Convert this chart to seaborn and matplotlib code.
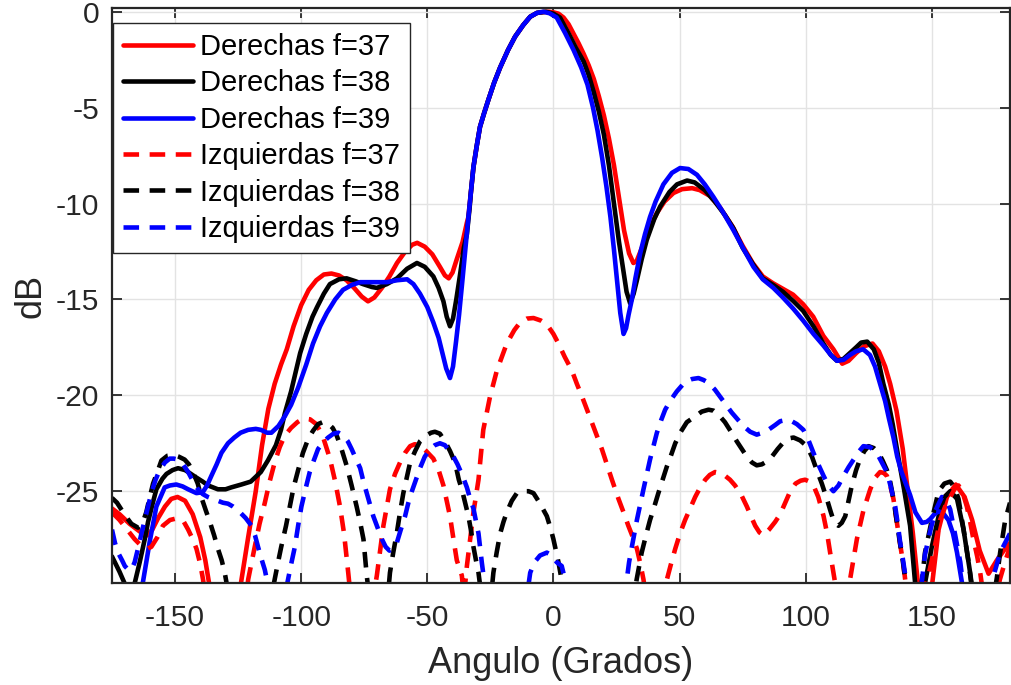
import matplotlib
matplotlib.use("Agg")
import matplotlib.pyplot as plt
import seaborn as sns
import pandas as pd

# ---------------- radiation pattern data (angle in degrees, level in dB) ----------------
der37_ang = [-175, -172, -168, -164, -161, -159, -156.7, -154, -151.5, -149, -146, -143, -140, -138, -136,
             -133, -128, -125.5, -124, -121, -118, -115.5, -113, -110.5, -108, -105.7, -103, -100, -97, -94,
             -91, -88, -85, -82, -79, -76, -73.5, -71, -68, -65, -62, -59, -56, -54, -51, -48, -45, -43,
             -41.5, -40, -38.3, -36, -34.3, -33.7, -32.7, -31.7, -30.4, -29.1, -27.5, -25.8, -23.5, -21.1,
             -18, -15.2, -12, -9.2, -6.5, -4, -2, 0, 2, 4, 6, 8, 10, 12, 14, 16, 18, 20, 22, 24, 26, 28,
             30, 31.7, 33, 35.7, 38, 41, 44, 47.6, 51, 55, 58, 62, 66, 71, 75, 79, 83, 87, 91, 95, 99, 103,
             107, 111, 114.5, 117, 120, 123, 126.5, 129, 131.5, 133.5, 136, 138.5, 140.5, 142.5, 144.5, 146,
             148, 150, 152.7, 156, 159.5, 163, 166, 169, 172.5, 175.8, 178.5, 181]
der37_db = [-25.9, -26.2, -26.7, -27.1, -27.3, -27.0, -26.4, -25.8, -25.4, -25.3, -25.5, -26.2, -27.4, -28.6, -30.2,
            -33, -34, -31.5, -29.9, -27.4, -25.0, -22.6, -20.7, -19.4, -18.4, -17.6, -16.4, -15.3, -14.5, -14.0,
            -13.7, -13.65, -13.75, -14.0, -14.4, -14.85, -15.1, -14.9, -14.4, -13.8, -13.1, -12.55, -12.15, -12.05,
            -12.25, -12.65, -13.3, -13.75, -13.9, -13.6, -12.9, -12.0, -11.0, -10.7, -9.4, -8.1, -7.0, -6.0, -5.3,
            -4.6, -3.7, -2.9, -2.0, -1.3, -0.7, -0.26, -0.06, -0.02, 0.0, -0.03, -0.1, -0.3, -0.65, -1.15, -1.65,
            -2.2, -2.8, -3.5, -4.4, -5.4, -6.6, -8.0, -9.7, -11.4, -12.6, -13.1, -13.0, -12.1, -11.3, -10.5, -9.9,
            -9.45, -9.25, -9.2, -9.3, -9.6, -10.2, -11.2, -12.2, -13.1, -13.8, -14.15, -14.45, -14.75, -15.25,
            -15.9, -16.9, -17.6, -18.35, -18.2, -17.8, -17.45, -17.3, -17.7, -18.5, -19.4, -20.8, -22.8, -25.0,
            -27.2, -29.8, -32, -33, -30, -27.0, -25.3, -24.65, -25.3, -26.5, -28.1, -29.3, -28.6, -28.1, -27.7]

der38_ang = [-175, -172, -170, -168, -166, -164, -162, -160.7, -159, -157.4, -155, -153.4, -151, -148.8, -146,
             -144.8, -142, -139, -136.9, -133, -130, -127.7, -123.7, -120, -116, -113.2, -110, -108, -106.4,
             -104, -102, -100.4, -98, -95.5, -93.7, -91, -88.6, -85, -82, -78.5, -75.5, -72, -70, -66, -62,
             -58, -54.1, -51, -47.6, -45.5, -43.6, -42.3, -41, -39.8, -38.5, -37, -35.5, -34.3, -33.2, -32.7,
             -31.7, -30.4, -29.1, -27.5, -25.8, -23.5, -21.1, -18, -15.2, -12, -9.2, -6.5, -3, 0, 2.6, 5.9, 9,
             12, 14, 16, 18, 20, 22, 24, 26, 27.6, 29, 30.4, 31.8, 33.1, 35, 37, 40, 42.3, 46, 49, 53, 56, 60,
             64, 68, 71.4, 75, 79.3, 83, 87.2, 91, 95.2, 99, 103.1, 107, 110, 112.4, 115, 117.5, 120, 122,
             124.4, 127, 129, 130.8, 133, 134.5, 136.7, 139, 141.4, 143.4, 145, 147.3, 150, 151.7, 153.3, 155,
             157.3, 160, 162.6, 165.2, 167, 170]
der38_db = [-28.4, -29.2, -29.8, -30.4, -29.8, -28.7, -27.5, -26.6, -25.7, -24.9, -24.35, -24.1, -23.9, -23.8,
            -23.9, -24.0, -24.25, -24.5, -24.7, -24.9, -24.9, -24.8, -24.65, -24.5, -24.0, -23.4, -22.6, -21.8,
            -20.9, -19.8, -18.7, -17.8, -16.8, -15.9, -15.4, -14.7, -14.2, -13.95, -13.9, -14.05, -14.2, -14.35,
            -14.4, -14.2, -13.9, -13.4, -13.1, -13.3, -13.8, -14.4, -15.1, -15.9, -16.4, -16.0, -15.0, -13.7,
            -12.3, -11.6, -10.2, -9.4, -8.1, -7.0, -6.0, -5.3, -4.6, -3.7, -2.9, -2.0, -1.3, -0.7, -0.26, -0.06,
            0.0, -0.1, -0.3, -1.1, -1.9, -2.6, -3.3, -4.2, -5.2, -6.4, -8.0, -10.0, -12.0, -13.4, -14.6, -15.2,
            -14.7, -14.0, -12.9, -11.9, -10.8, -10.16, -9.4, -9.0, -8.8, -8.9, -9.3, -9.9, -10.6, -11.3, -12.3,
            -13.2, -13.9, -14.25, -14.6, -15.1, -15.6, -16.4, -17.3, -17.9, -18.2, -18.1, -17.8, -17.5, -17.25,
            -17.2, -17.6, -18.3, -19.4, -20.5, -21.5, -23.2, -24.9, -26.8, -29.8, -32, -29.8, -27.9, -26.9,
            -25.95, -25.3, -25.0, -25.4, -27.0, -29.25, -31, -34]

der39_ang = [-165, -162.8, -160, -157.4, -154.1, -152, -149.5, -147, -144.8, -141.5, -139, -137.3, -135.6,
             -133.5, -131.6, -129, -126.5, -124, -121, -118, -116, -113.5, -111.8, -109, -106.5, -104, -101.2,
             -98, -95.3, -92.5, -89.8, -86.5, -83.4, -80, -76.6, -72, -66, -62, -58, -55.5, -52.9, -50, -47.6,
             -45.5, -43.6, -42.5, -41, -39.8, -38.6, -37.4, -36, -34.8, -33.7, -32.7, -31.7, -30.4, -29.1,
             -27.5, -25.8, -23.5, -21.1, -18, -15.2, -12, -9.2, -6.5, -4, -1.5, 1.3, 4.6, 8, 11, 13.5, 15.7,
             17.5, 19.3, 21, 22.6, 24, 25.3, 26.5, 27.8, 28.8, 29.8, 31.1, 32.5, 34.4, 36.3, 38.3, 40.5, 43.6,
             47, 50.2, 53.5, 56.9, 60, 63.4, 67, 71.4, 75.5, 79.3, 83, 87.2, 91, 95.2, 99, 103.1, 107, 110,
             112.4, 115, 117.5, 120, 122.8, 125.5, 127.5, 129.5, 131.5, 133, 134.8, 136.3, 138, 139.7, 141.4,
             143.5, 146.1, 148, 149.4, 151, 152.7, 154.5, 156.6, 158.4, 160, 162, 164]
der39_db = [-33, -29.8, -27.6, -25.8, -24.8, -24.7, -24.65, -24.75, -24.9, -25.1, -25.05, -24.7, -24.2, -23.6,
            -23.0, -22.5, -22.2, -21.95, -21.8, -21.75, -21.8, -21.95, -21.95, -21.6, -21.1, -20.5, -19.6, -18.4,
            -17.3, -16.4, -15.7, -15.0, -14.5, -14.25, -14.1, -14.1, -14.1, -14.0, -13.95, -14.2, -14.7, -15.4,
            -16.2, -17.0, -18.0, -18.6, -19.1, -18.5, -17.2, -15.8, -13.9, -12.2, -10.7, -9.4, -8.1, -7.0, -6.0,
            -5.3, -4.6, -3.7, -2.9, -2.0, -1.3, -0.7, -0.26, -0.06, 0.0, -0.08, -0.3, -1.1, -2.0, -2.9, -3.8,
            -5.0, -6.2, -7.6, -9.1, -10.7, -12.4, -14.1, -15.7, -16.8, -16.5, -15.8, -15.0, -13.9, -12.6, -11.6,
            -10.7, -9.9, -9.0, -8.4, -8.15, -8.2, -8.5, -9.0, -9.65, -10.4, -11.4, -12.4, -13.3, -13.95, -14.4,
            -14.9, -15.5, -16.1, -16.8, -17.4, -17.9, -18.2, -18.15, -17.9, -17.7, -17.6, -17.9, -18.5, -19.4,
            -20.3, -21.2, -22.2, -23.2, -24.0, -24.6, -25.2, -26.1, -26.65, -26.6, -26.45, -26.2, -26.05, -26.15,
            -26.5, -27.2, -28.2, -29.8, -32]

izq37_ang = [-175, -172, -169, -166, -163, -161, -159.4, -157, -154.8, -152, -148.8, -146.5, -144.8, -143,
             -141.5, -140, -138.9, -137.5, -135, -128, -123, -121, -118.4, -116.5, -114.4, -112.5, -110.5,
             -108.5, -106.5, -104, -101.5, -99, -96.5, -94, -91.5, -88.6, -86.5, -84.6, -83, -81.3, -80, -76,
             -72, -70, -68.5, -67.4, -64.8, -62.8, -60.8, -58.8, -56.8, -55, -53, -50.5, -47.6, -45.5, -43.6,
             -41, -39.5, -38.3, -36.3, -35.5, -34.8, -34.3, -33, -31.7, -29.7, -27.8, -25.1, -22.4, -18.5,
             -15.5, -13.2, -10.5, -7.9, -5, -2.6, 0, 2, 4.5, 7.3, 9.3, 11.3, 13.2, 15.2, 17.2, 19.2, 21.2,
             23.2, 25.8, 27.8, 29.7, 31.5, 33.1, 34.5, 35.7, 37, 40, 43.5, 45, 46.6, 48.3, 50.2, 52.2, 54.2,
             56.2, 58.2, 60.2, 62, 64.1, 66, 68.1, 70, 72, 74.5, 76.7, 78.3, 80, 81.7, 83.3, 85.5, 87.9, 89.9,
             91.9, 93.9, 96, 98, 99.8, 101.5, 103.1, 105, 107.1, 108.5, 109.7, 111.7, 113, 116, 117.6, 119,
             120.3, 122.9, 125.6, 127.5, 129.5, 131, 132.2, 133.5, 134.8, 136.8, 138.8, 140, 142, 145, 147,
             149, 150.7, 153.3, 155.3, 157.3, 159, 160.6, 162.3, 163.9, 165.2, 166.5, 168, 169.2, 170.5, 173,
             175.5, 177, 179, 181]
izq37_db = [-26.1, -26.5, -27.0, -27.5, -27.9, -28.0, -27.9, -27.4, -26.8, -26.5, -26.4, -26.6, -27.0, -27.5,
            -28.0, -28.8, -29.6, -30.8, -33, -36, -32, -29.6, -27.9, -26.7, -25.6, -24.5, -23.5, -22.7, -22.1,
            -21.7, -21.4, -21.2, -21.25, -21.5, -22.1, -23.3, -24.5, -25.8, -27.2, -29.3, -31, -34, -31, -29.4,
            -27.9, -26.8, -24.9, -24.1, -23.5, -23.0, -22.65, -22.55, -22.6, -22.9, -23.3, -23.9, -24.7, -26.3,
            -27.6, -28.6, -29.4, -30.5, -29.6, -28.9, -27.5, -26.1, -24.4, -21.8, -20.05, -18.7, -17.3, -16.6,
            -16.2, -16.0, -15.97, -16.1, -16.3, -16.8, -17.3, -18.0, -18.7, -19.4, -20.05, -20.7, -21.4, -22.1,
            -22.8, -23.6, -24.4, -25.4, -26.1, -26.8, -27.4, -28.0, -28.8, -29.6, -30.8, -32, -30.8, -29.6,
            -28.8, -28.0, -27.2, -26.5, -25.9, -25.3, -24.8, -24.4, -24.15, -24.0, -24.05, -24.2, -24.4, -24.7,
            -25.2, -25.8, -26.3, -26.8, -27.15, -27.3, -27.0, -26.6, -26.2, -25.6, -25.0, -24.6, -24.45, -24.4,
            -24.5, -24.7, -25.3, -26.3, -27.2, -28.2, -29.8, -31, -31, -29.6, -28.5, -27.5, -26.0, -24.9,
            -24.3, -24.0, -24.05, -24.2, -24.7, -25.4, -27.2, -28.9, -30.2, -32, -33, -30, -29.2, -28.2,
            -26.5, -25.8, -25.3, -24.9, -24.7, -25.1, -25.8, -26.6, -27.5, -28.4, -29.25, -30.5, -31.5, -30.5,
            -29.6, -28.7, -27.9]

izq38_ang = [-175, -173, -171.3, -169, -167.3, -164.7, -163, -161.4, -160, -158.7, -157, -155.4, -153, -150.8,
             -148.5, -146.2, -144.5, -142.9, -141, -139.6, -137.8, -136.2, -134.5, -133, -131.5, -130.3, -129,
             -125, -115, -111.5, -110.5, -109, -107.9, -106, -104.5, -103, -101.2, -99.3, -97.3, -95.3, -93.3,
             -91.5, -89.5, -87.5, -85.9, -84, -81.9, -80, -78, -76.5, -75.3, -74, -73, -68, -65.5, -64.8,
             -63.5, -62.1, -60.8, -59.5, -58, -56.8, -54.8, -52.9, -50.5, -48.5, -47, -45, -43, -41, -39,
             -37.5, -36.3, -35, -33.7, -32.6, -31.7, -30.7, -29.7, -28.5, -26, -24.5, -23.8, -22.5, -21.1,
             -19.8, -18.5, -16.5, -14.5, -11.9, -9.9, -7.9, -5.5, -2.6, -1.2, 0, 1, 2, 3.5, 5, 15, 30, 32, 33,
             35, 36.7, 38.3, 40, 41.6, 43.3, 45, 46.7, 48.3, 50.5, 52.9, 56.2, 58.8, 61.5, 63.5, 65.4, 68, 70.7,
             72.7, 74.7, 76.7, 78.7, 80.6, 82.6, 84.6, 86.6, 88.9, 91.2, 93.2, 95.2, 97.8, 100.5, 102.5, 104.4,
             106.4, 108.4, 110, 111, 112, 113, 114.3, 115.7, 117, 118.3, 120, 121.6, 123.3, 124.9, 127, 128.9,
             130.5, 132.2, 133.5, 134.8, 136.8, 138.8, 140, 142, 145, 147.3, 150, 152.7, 155, 157.3, 159,
             160.6, 162.6, 164.6, 166, 170, 174, 175.8, 177.1, 179.1, 181]
izq38_db = [-25.35, -25.6, -25.95, -26.4, -26.7, -26.9, -26.7, -26.1, -25.3, -24.6, -24.0, -23.4, -23.15,
            -23.1, -23.2, -23.35, -23.6, -24.0, -24.6, -25.3, -26.0, -26.6, -27.3, -28.0, -28.6, -29.25, -30.2,
            -33, -33, -30.3, -29.6, -28.6, -27.9, -26.8, -25.8, -24.8, -23.9, -23.0, -22.3, -21.85, -21.5,
            -21.4, -21.45, -21.7, -22.1, -22.8, -23.7, -24.7, -25.8, -26.7, -27.5, -29.4, -30.5, -33, -30.3,
            -29.25, -28.2, -27.2, -26.1, -25.1, -24.2, -23.5, -22.9, -22.4, -22.1, -21.95, -21.9, -22.0, -22.4,
            -22.9, -23.5, -24.4, -24.9, -25.6, -26.3, -27.1, -27.9, -28.6, -29.25, -30.5, -31.5, -30.2, -29.25,
            -28.2, -27.2, -26.6, -26.1, -25.5, -25.1, -25.0, -25.0, -25.1, -25.6, -26.3, -26.9, -27.5, -28.1,
            -28.7, -29.8, -31, -34, -32, -30.5, -29.6, -28.2, -27.3, -26.5, -25.8, -25.1, -24.4, -23.7, -23.1,
            -22.5, -21.9, -21.4, -21.1, -20.85, -20.75, -20.8, -21.0, -21.4, -21.96, -22.4, -22.8, -23.2, -23.5,
            -23.65, -23.6, -23.45, -23.2, -22.8, -22.45, -22.25, -22.2, -22.35, -22.65, -23.2, -23.9, -24.6,
            -25.4, -26.1, -26.5, -26.7, -26.8, -26.65, -26.3, -25.5, -24.7, -23.9, -23.3, -22.9, -22.65, -22.75,
            -23.0, -23.4, -23.9, -24.5, -25.4, -27.2, -28.9, -30.2, -32, -31, -28.2, -26.5, -25.0, -24.6, -24.5,
            -24.8, -25.4, -27.0, -28.7, -30.2, -33, -31, -29.5, -28.2, -26.5, -25.6]

izq39_ang = [-175, -173.8, -172.6, -171, -169.9, -168.5, -167.3, -166, -164.7, -163.3, -162, -160.7, -159.4,
             -157.7, -156.1, -154, -152.1, -150.5, -148.8, -146.8, -144.8, -142.8, -140.9, -139, -137, -135,
             -133, -131, -129, -127, -125, -123.5, -122, -119.7, -118.3, -117.1, -115.8, -114.4, -113, -110,
             -106.5, -105.2, -103.8, -102.5, -101.2, -99.9, -98.3, -96.6, -95, -93.3, -91.3, -89.3, -87.2,
             -85.2, -83.3, -81.5, -80, -78.3, -76.6, -75.3, -74, -72.7, -71.4, -70, -68, -66.5, -65, -63.5,
             -62.1, -60.5, -58.8, -57.5, -56.1, -54.5, -52.9, -51, -48.9, -47, -45, -43, -41.3, -39.6, -38,
             -36, -34.3, -33, -31.7, -30.5, -29.7, -28.4, -27.5, -26.5, -20, -12, -10, -9.2, -7.5, -5.3, -2.6,
             -0.5, 1.3, 3.3, 4.6, 6, 15, 27, 29.1, 30, 31.1, 33.1, 35.7, 38.3, 41, 42.7, 44.3, 46.5, 48.9,
             52.2, 55, 57.5, 59.5, 61.5, 64, 66.8, 68.8, 70.7, 73, 75.3, 78, 80.6, 83, 85.2, 87.9, 89.9, 91.8,
             93.8, 96.5, 99.1, 101, 103.1, 105, 107.1, 109, 111, 113, 115, 117, 119, 121, 122.9, 125.5, 128.2,
             130.2, 132.2, 133.8, 135.5, 136.5, 137.5, 138.5, 139.5, 141, 145, 146, 147.3, 149.5, 151.5, 154,
             155.5, 157.3, 159.3, 161.3, 162.5, 165, 172, 174.5, 177.1, 181]
izq39_db = [-27.0, -27.7, -28.2, -28.6, -28.9, -29.1, -29.1, -28.7, -28.0, -27.2, -26.5, -25.8, -25.1, -24.4,
            -23.9, -23.5, -23.3, -23.3, -23.35, -23.6, -24.0, -24.5, -24.9, -25.15, -25.3, -25.4, -25.5, -25.6,
            -25.65, -25.8, -26.0, -26.2, -26.4, -26.8, -27.3, -27.9, -28.5, -29.1, -30, -32, -30.5, -29.6, -28.7,
            -27.9, -26.8, -25.8, -24.9, -24.0, -23.4, -22.8, -22.45, -22.2, -22.0, -21.95, -22.1, -22.4, -22.8,
            -23.3, -23.8, -24.5, -25.1, -25.7, -26.3, -26.8, -27.5, -27.9, -28.1, -28.0, -27.7, -27.0, -26.3,
            -25.6, -25.0, -24.4, -23.8, -23.2, -22.8, -22.6, -22.5, -22.6, -22.9, -23.2, -23.6, -24.2, -24.8,
            -25.4, -25.9, -26.7, -27.2, -28.7, -29.6, -30.8, -33, -31, -30.0, -29.25, -28.7, -28.35, -28.2,
            -28.35, -28.7, -28.9, -29.6, -31, -34, -31, -29.6, -28.7, -27.9, -26.5, -24.9, -23.35, -21.96, -21.3,
            -20.75, -20.25, -19.8, -19.3, -19.15, -19.1, -19.2, -19.35, -19.7, -20.2, -20.55, -20.9, -21.25,
            -21.6, -21.9, -22.05, -21.95, -21.8, -21.55, -21.35, -21.3, -21.3, -21.5, -21.8, -22.3, -23.0, -23.6,
            -24.2, -24.7, -25.0, -24.7, -24.2, -23.75, -23.35, -22.95, -22.65, -22.7, -23.0, -23.5, -24.0, -24.8,
            -25.8, -26.7, -27.7, -28.5, -29.4, -31, -31, -29.8, -28.3, -27.0, -26.0, -25.3, -25.4, -25.95, -27.3,
            -28.7, -30, -32, -31, -29.4, -28.2, -27.2]

series_labels = ["Derechas f=37", "Derechas f=38", "Derechas f=39",
                 "Izquierdas f=37", "Izquierdas f=38", "Izquierdas f=39"]
series_angles = [der37_ang, der38_ang, der39_ang, izq37_ang, izq38_ang, izq39_ang]
series_levels = [der37_db, der38_db, der39_db, izq37_db, izq38_db, izq39_db]

x_ticks = [-150, -100, -50, 0, 50, 100, 150]
y_ticks = [-25, -20, -15, -10, -5, 0]

# ---------------- styling ----------------
sns.set_theme(style="white")
plt.rcParams["font.family"] = ["Liberation Sans", "DejaVu Sans"]
plt.rcParams["axes.unicode_minus"] = False

colors = ["#ff0000", "#000000", "#0000ff"] * 2
dashed = [False, False, False, True, True, True]

fig = plt.figure(figsize=(10.11, 6.85), dpi=100)
ax = fig.add_axes([0.1105, 0.1485, 0.8885, 0.8394])

for lab, ang, lev, col, dsh in zip(series_labels, series_angles, series_levels, colors, dashed):
    df = pd.DataFrame({"ang": ang, "db": lev})
    kw = dict(linestyle=(0, (3.4, 2.3))) if dsh else dict(linestyle="-")
    sns.lineplot(data=df, x="ang", y="db", ax=ax, color=col, lw=3.3, label=lab,
                 sort=False, estimator=None, **kw)

ax.set_xlim(-175.1, 181)
ax.set_ylim(-29.8, 0.18)
ax.set_xticks(x_ticks)
ax.set_yticks(y_ticks)
ax.set_xticklabels([str(v) for v in x_ticks])
ax.set_yticklabels([str(v) for v in y_ticks])

ax.grid(True, color="#e3e3e3", lw=1.0)
ax.set_axisbelow(True)
for sp in ax.spines.values():
    sp.set_visible(True)
    sp.set_color("#262626")
    sp.set_linewidth(1.6)
ax.tick_params(axis="both", which="both", direction="in", length=7, width=1.3,
               color="#262626", labelcolor="#262626", labelsize=21.6,
               top=True, right=True, bottom=True, left=True)
ax.tick_params(axis="x", pad=15)
ax.tick_params(axis="y", pad=9)

ax.set_xlabel("Angulo (Grados)", fontsize=26, color="#262626", labelpad=10)
ax.set_ylabel("dB", fontsize=26, color="#262626", labelpad=5)

leg = ax.legend(loc="upper left", bbox_to_anchor=(0.001, 0.975), fontsize=21,
                frameon=True, fancybox=False, framealpha=1, edgecolor="#262626",
                handlelength=2.4, handletextpad=0.25, labelspacing=0.29,
                borderpad=0.35, borderaxespad=0.0)
leg.get_frame().set_linewidth(1.0)
for t in leg.get_texts():
    t.set_color("black")

fig.savefig("out.png", dpi=100)
